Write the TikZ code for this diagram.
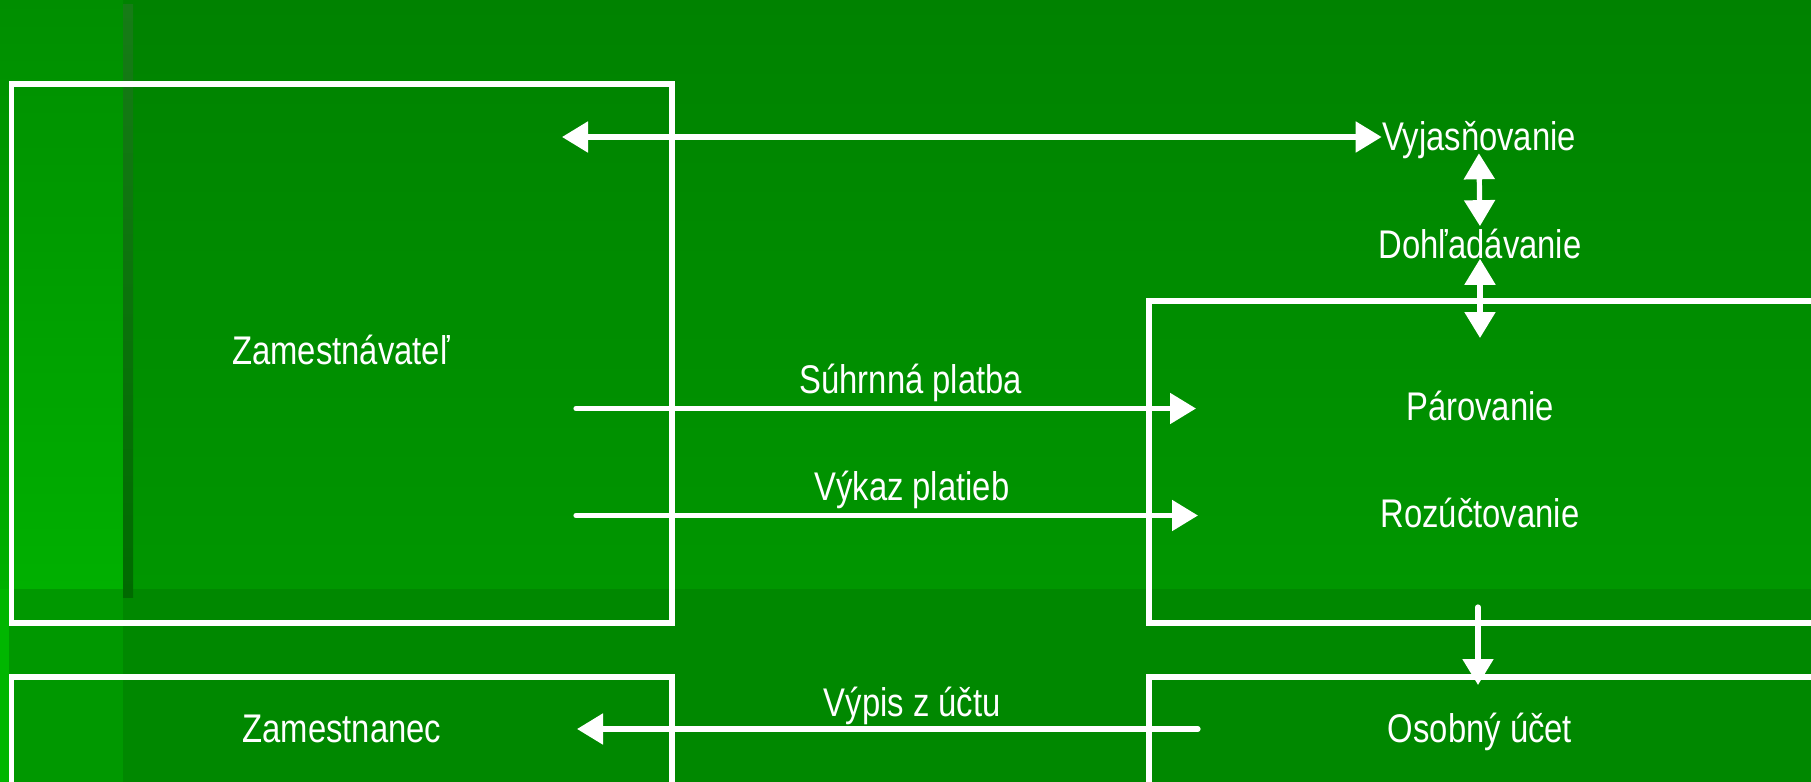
\documentclass[tikz,border=0pt]{standalone}
\usepackage{fontspec}
\setmainfont{Liberation Sans}[FakeStretch=0.82]
\usetikzlibrary{arrows.meta, positioning, calc}

\definecolor{bgtop}{RGB}{0,130,0}
\definecolor{bgmid}{RGB}{0,150,0}
\definecolor{bglow}{RGB}{0,136,0}
\definecolor{lefttop}{RGB}{0,142,0}
\definecolor{leftmid}{RGB}{0,176,0}
\definecolor{leftlow}{RGB}{0,152,0}
\definecolor{stripbright}{RGB}{0,182,0}
\definecolor{bartop}{RGB}{22,124,22}
\definecolor{barbot}{RGB}{0,106,0}

\begin{document}
\begin{tikzpicture}[
		x=0.5pt, y=-0.5pt,
		>={Triangle[length=13pt, width=15pt]},
		every node/.style = {text=white, font=\fontsize{20pt}{24pt}\selectfont},
		frame/.style   = {draw=white, line width=2.6pt, inner sep=0pt, outer sep=0pt},
		flow/.style    = {draw=white, line width=2.6pt, line cap=round},
		caption/.style = {above, inner sep=2pt}
		]
		
		\useasboundingbox (0,0) rectangle (1811,782);
		
		%% -- background -------------------------------------------------
		\fill[top color=bgtop, bottom color=bgmid] (0,0) rectangle (1811,589);
		\fill[bglow] (0,589) rectangle (1811,782);
		\fill[top color=lefttop, bottom color=leftmid] (0,0) rectangle (123,589);
		\fill[leftlow] (0,589) rectangle (123,782);
		\fill[stripbright] (0,589) rectangle (9,782);
		\fill[top color=bartop, bottom color=barbot] (123,4) rectangle (133,597);
		
		%% -- boxes ------------------------------------------------------
		\node[frame, minimum width=330.25pt, minimum height=269.5pt] (emp) at (341.75,353.5) {};
		\node[frame, anchor=north, minimum width=330.25pt, minimum height=70pt] (empe) at (341.75,677) {};
		\node[frame, anchor=north west, minimum width=340.5pt, minimum height=161pt] (proc) at (1149,301) {};
		\node[frame, anchor=north west, minimum width=340.5pt, minimum height=70pt] (acct) at (1149,677) {};
		
		%% -- texts ------------------------------------------------------
		\node[anchor=base] (empT)  at (341,364) {Zamestnávateľ};
		\node[anchor=base] (empeT) at (342,742) {Zamestnanec};
		\node[anchor=base, inner sep=0pt] (clar)   at (1479,150) {Vyjasňovanie};
		\node[anchor=base, inner sep=0pt] (search) at (1480,258) {Dohľadávanie};
		\node[anchor=base] (pair)  at (1480,420) {Párovanie};
		\node[anchor=base] (split) at (1480,527) {Rozúčtovanie};
		\node[anchor=base] (acctT) at (1480,742) {Osobný účet};
		
		%% -- arrow ends -------------------------------------------------
		\coordinate (clarEnd) at (562,137);
		\coordinate (pairTop) at (1477,338);
		\coordinate (sumStart) at (576,408.5);
		\coordinate (sumEnd)   at (1196,408.5);
		\coordinate (listStart) at (576,515.5);
		\coordinate (listEnd)   at (1198,515.5);
		\coordinate (stmtStart) at (1198,729);
		\coordinate (stmtEnd)   at (577,729);
		\coordinate (splitOut) at (1478,607);
		\coordinate (acctIn)   at (1478,685);
		
		%% -- clarification chain ----------------------------------------
		\draw[flow, <->] (clarEnd) -- (clar.west |- clarEnd);
		\draw[flow, <->, shorten <=-2.7pt, shorten >=1pt] (clar.south) -- (search.north);
		\draw[flow, <->] (search.south) -- (search.south |- pairTop);
		
		%% -- payments ---------------------------------------------------
		\draw[flow, ->] (sumStart) -- node[caption, pos=0.54] (sumTag) {Súhrnná platba} (sumEnd);
		\draw[flow, ->] (listStart) -- node[caption, pos=0.54] (listTag) {Výkaz platieb} (listEnd);
		\draw[flow, ->] (stmtStart) -- node[caption, pos=0.46, inner sep=1pt] (stmtTag) {Výpis z účtu} (stmtEnd);
		
		%% -- posting to account -----------------------------------------
		\draw[flow, ->] (splitOut) -- (acctIn);
		
	\end{tikzpicture}
\end{document}
